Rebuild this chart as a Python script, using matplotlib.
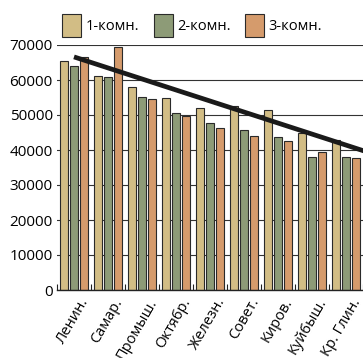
import numpy as np
import matplotlib
matplotlib.use('Agg')
import matplotlib.pyplot as plt
from matplotlib.patches import Patch

plt.rcParams['font.family'] = ['Open Sans', 'DejaVu Sans']

# price per sq. m by district and flat size
districts = ['Ленин.', 'Самар.', 'Промыш.', 'Октябр.', 'Железн.',
             'Совет.', 'Киров.', 'Куйбыш.', 'Кр. Глин.']
one_room = [65500, 61200, 58100, 55000, 52100, 52600, 51300, 44800, 43000]
two_room = [64000, 60800, 55100, 50700, 47600, 45700, 43800, 38100, 37900]
three_room = [66700, 69400, 54700, 49800, 46200, 44100, 42500, 39300, 37600]
series_names = ['1-комн.', '2-комн.', '3-комн.']

# trend line: value at first district and drop per district
trend_start = 66600
trend_step = -3150

colors = ['#d2bd85', '#8d9b77', '#d59b6c']

fig = plt.figure(figsize=(3.63, 3.58), dpi=100)
ax = fig.add_axes([57/363, 68/358, 1 - 57/363, 245/358])

x = np.arange(len(districts))
w = 0.235
step = 0.28
for i, vals in enumerate([one_room, two_room, three_room]):
    ax.bar(x + (i - 1)*step, vals, width=w, color=colors[i],
           edgecolor='#2a2a2a', linewidth=0.8, zorder=2)

xt = np.linspace(0, 8.6, 2)
ax.plot(xt, trend_start + trend_step*xt, color='#1a1a1a', lw=3.4,
        solid_capstyle='butt', zorder=3)

ax.set_xlim(-0.5, 8.47)
ax.set_ylim(0, 70000)
ax.set_yticks(range(0, 70001, 10000))
ax.yaxis.grid(True, color='#333333', lw=0.8, zorder=0)
ax.set_axisbelow(True)
for s in ['top', 'right', 'left']:
    ax.spines[s].set_visible(False)
ax.spines['bottom'].set_color('#222222')
ax.spines['bottom'].set_linewidth(1.0)
ax.tick_params(axis='y', length=0, labelsize=11, pad=3)

# group boundary ticks and centred rotated labels
ax.set_xticks(np.arange(-0.5, 9, 1.0))
ax.set_xticklabels([])
ax.tick_params(axis='x', which='major', direction='in', length=4,
               color='#222222')
ax.set_xticks(x + 0.15, minor=True)
ax.set_xticklabels(districts, minor=True, rotation=60, ha='right',
                   rotation_mode='anchor', fontsize=10.5)
ax.tick_params(axis='x', which='minor', length=0, pad=4)

handles = [Patch(facecolor=c, edgecolor='#2a2a2a', linewidth=0.8) for c in colors]
fig.legend(handles, series_names, loc='center', bbox_to_anchor=(0.53, 0.93),
           ncol=3, frameon=False, fontsize=10.5, handlelength=1.3,
           handleheight=2.05, handletextpad=0.3, columnspacing=1.0)

fig.savefig('out.png', dpi=100)
